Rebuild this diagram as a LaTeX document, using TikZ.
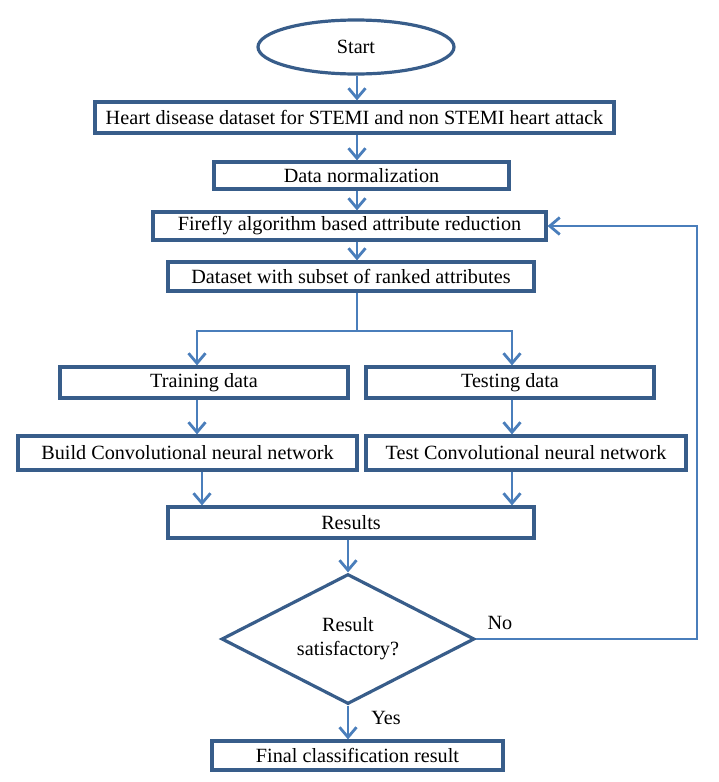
\documentclass[tikz,border=0pt]{standalone}
\usepackage{fontspec}
\setmainfont{Liberation Serif}
\usetikzlibrary{arrows.meta,shapes.geometric}
\definecolor{boxc}{HTML}{385D8A}
\definecolor{arrc}{HTML}{4A7EBB}
\tikzset{
  box/.style={draw=boxc, line width=3.2pt, rectangle, inner sep=0pt, font=\fontsize{20.2}{24}\selectfont},
  arr/.style={draw=arrc, line width=2.8pt, -{Straight Barb[length=10pt,width=17pt,line width=2.8pt]}},
  ln/.style={draw=arrc, line width=2.8pt},
  lbl/.style={inner sep=0pt, font=\fontsize{20.2}{24}\selectfont},
}
\begin{document}
\begin{tikzpicture}[x=1pt,y=-1pt]
\useasboundingbox (0,0) rectangle (718,782);
\node[box, ellipse, minimum width=196pt, minimum height=54pt] (start) at (356,47) {Start};
\node[box, minimum width=519pt, minimum height=31pt] (b1) at (354.5,117.5) {Heart disease dataset for STEMI and non STEMI heart attack};
\node[box, minimum width=295pt, minimum height=27pt] (b2) at (361.5,175.5) {Data normalization};
\node[box, minimum width=393pt, minimum height=28pt] (b3) at (349.5,226) {Firefly algorithm based attribute reduction};
\node[box, minimum width=366pt, minimum height=29pt] (b4) at (351,276.5) {Dataset with subset of ranked attributes};
\node[box, minimum width=288pt, minimum height=31pt] (tr) at (204,382.5) {Training data};
\node[box, minimum width=288pt, minimum height=31pt] (te) at (510,382.5) {Testing data};
\node[box, minimum width=339pt, minimum height=34pt] (bu) at (187.5,453) {Build Convolutional neural network};
\node[box, minimum width=320pt, minimum height=34pt] (tc) at (526,453) {Test Convolutional neural network};
\node[box, minimum width=366pt, minimum height=31pt] (res) at (351,522.5) {Results};
\node[box, diamond, aspect=1.95, minimum width=253pt, minimum height=130pt, align=center, font=\fontsize{20.2}{24}\selectfont] (dia) at (348,639) {Result\\satisfactory?};
\node[box, minimum width=291pt, minimum height=29pt] (fin) at (357.5,755.5) {Final classification result};
\node[lbl] (no) at (500,623) {No};
\node[lbl] (yes) at (386,718) {Yes};
\coordinate (ax) at (357,0);
\coordinate (lx) at (197,0);
\coordinate (rx) at (512,0);
\coordinate (lx2) at (202,0);
\coordinate (sp) at (0,331);
\coordinate (lp) at (697,0);
\draw[arr] (start.south -| ax) -- (b1.north -| ax);
\draw[arr] (b1.south -| ax) -- (b2.north -| ax);
\draw[arr] (b2.south -| ax) -- (b3.north -| ax);
\draw[arr] (b3.south -| ax) -- (b4.north -| ax);
\draw[ln] (b4.south -| ax) -- (sp -| ax);
\draw[arr] (sp -| ax) -- (sp -| lx) -- (tr.north -| lx);
\draw[arr] (sp -| ax) -- (sp -| rx) -- (te.north -| rx);
\draw[arr] (tr.south -| lx) -- (bu.north -| lx);
\draw[arr] (te.south -| rx) -- (tc.north -| rx);
\draw[arr] (bu.south -| lx2) -- (res.north -| lx2);
\draw[arr] (tc.south -| rx) -- (res.north -| rx);
\draw[arr] (res.south -| dia.north) -- (dia.north);
\draw[arr] (dia.south) -- (fin.north -| dia.south);
\draw[arr] (dia.east) -- (dia.east -| lp) |- (b3.east);
\end{tikzpicture}
\end{document}
